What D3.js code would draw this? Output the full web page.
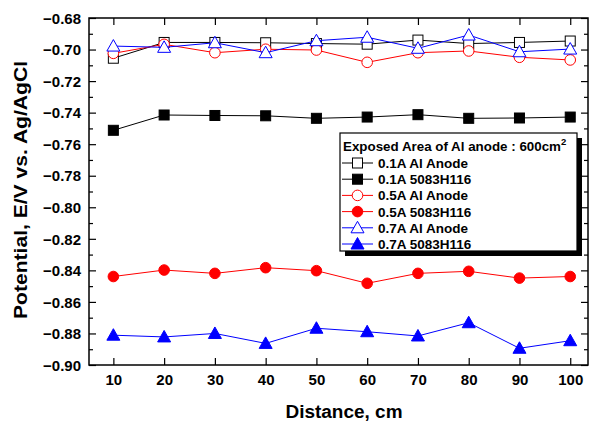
<!DOCTYPE html>
<html><head><meta charset="utf-8">
<script src="https://cdn.jsdelivr.net/npm/d3@7"></script>
<style>body{margin:0;background:#fff}svg{display:block;font-family:"Liberation Sans",Arial,sans-serif;font-weight:bold}</style>
</head><body><svg id="c" width="595" height="424"></svg>
<script>
const distances = [10,20,30,40,50,60,70,80,90,100];
const al01 = [-0.7055,-0.6955,-0.6955,-0.6957,-0.6962,-0.6966,-0.6940,-0.6962,-0.6955,-0.6946];
const h01  = [-0.7512,-0.7415,-0.7418,-0.7420,-0.7436,-0.7428,-0.7413,-0.7436,-0.7434,-0.7428];
const al05 = [-0.7024,-0.6967,-0.7020,-0.6998,-0.7003,-0.7081,-0.7020,-0.7009,-0.7049,-0.7066];
const h05  = [-0.8439,-0.8398,-0.8419,-0.8383,-0.8402,-0.8482,-0.8419,-0.8406,-0.8449,-0.8439];
const al07 = [-0.6978,-0.6986,-0.6957,-0.7020,-0.6944,-0.6922,-0.6992,-0.6908,-0.7014,-0.6997];
const h07  = [-0.8811,-0.8822,-0.8800,-0.8863,-0.8767,-0.8789,-0.8816,-0.8732,-0.8894,-0.8846];
const yTicks = [-0.68,-0.70,-0.72,-0.74,-0.76,-0.78,-0.80,-0.82,-0.84,-0.86,-0.88,-0.90];
const yMinor = [-0.69,-0.71,-0.73,-0.75,-0.77,-0.79,-0.81,-0.83,-0.85,-0.87,-0.89];
const seriesNames = ["0.1A Al Anode","0.1A 5083H116","0.5A Al Anode","0.5A 5083H116","0.7A Al Anode","0.7A 5083H116"];
const seriesColors = ["#000000","#000000","#ff0000","#ff0000","#0000ff","#0000ff"];
const seriesShapes = ["square","square","circle","circle","triangle","triangle"];
const seriesFilled = [false,true,false,true,false,true];
const seriesValues = [al01,h01,al05,h05,al07,h07];

const svg = d3.select("#c");
const L=89,R=588,T=18,B=365;
const x = d3.scaleLinear().domain([5.2,103.5]).range([L,R]);
const y = d3.scaleLinear().domain([-0.90,-0.68]).range([B,T]);

// frame
svg.append("rect").attr("x",L).attr("y",T).attr("width",R-L).attr("height",B-T)
  .attr("fill","none").attr("stroke","#000").attr("stroke-width",1.5);

// axes with inward ticks
const fmt = d3.format(".2f");
const gl = svg.append("g").attr("transform",`translate(${L},0)`)
  .call(d3.axisLeft(y).tickValues(yTicks).tickSize(-7).tickPadding(15).tickFormat(fmt));
gl.selectAll("text").attr("font-size",15).attr("font-weight","bold").attr("font-family","Liberation Sans, Arial").attr("fill","#000").attr("dx","0").attr("x",-8).attr("dy","0.35em");
svg.append("g").attr("transform",`translate(${L},0)`)
  .call(d3.axisLeft(y).tickValues(yMinor).tickSize(-4).tickFormat(""));
svg.append("g").attr("transform",`translate(${R},0)`)
  .call(d3.axisRight(y).tickValues(yTicks).tickSize(-7).tickFormat(""));
svg.append("g").attr("transform",`translate(${R},0)`)
  .call(d3.axisRight(y).tickValues(yMinor).tickSize(-4).tickFormat(""));
const gb = svg.append("g").attr("transform",`translate(0,${B})`)
  .call(d3.axisBottom(x).tickValues(distances).tickSize(-7).tickFormat(d3.format("d")));
gb.selectAll("text").attr("font-size",15).attr("font-weight","bold").attr("font-family","Liberation Sans, Arial").attr("fill","#000").attr("y",9).attr("dy","0.71em");
svg.append("g").attr("transform",`translate(0,${T})`)
  .call(d3.axisTop(x).tickValues(distances).tickSize(-7).tickFormat(""));
svg.selectAll(".domain").remove();
svg.selectAll(".tick line").attr("stroke","#000").attr("stroke-width",1.2);

// axis titles
svg.append("text").attr("x",344).attr("y",418).attr("text-anchor","middle")
  .attr("font-size",18).attr("textLength",117).attr("lengthAdjust","spacingAndGlyphs").text("Distance, cm");
svg.append("text").attr("transform","translate(27,190) rotate(-90)").attr("text-anchor","middle")
  .attr("font-size",18).attr("textLength",258).attr("lengthAdjust","spacingAndGlyphs").text("Potential, E/V vs. Ag/AgCl");

function drawMarker(g, shape, color, filled, cx, cy){
  const fill = filled ? color : "#fff";
  if(shape==="square"){
    g.append("rect").attr("x",cx-5).attr("y",cy-5).attr("width",10).attr("height",10)
      .attr("fill",fill).attr("stroke",color).attr("stroke-width",1);
  } else if(shape==="circle"){
    g.append("circle").attr("cx",cx).attr("cy",cy).attr("r",5.3)
      .attr("fill",fill).attr("stroke",color).attr("stroke-width",1);
  } else {
    g.append("path").attr("d",`M${cx},${cy-6.5}L${cx+6.5},${cy+5}L${cx-6.5},${cy+5}Z`)
      .attr("fill",fill).attr("stroke",color).attr("stroke-width",1);
  }
}

const line = d3.line().x((d,i)=>x(distances[i])).y(d=>y(d));
seriesValues.forEach((vals,si)=>{
  const g = svg.append("g");
  g.append("path").attr("d",line(vals)).attr("fill","none").attr("stroke",seriesColors[si]).attr("stroke-width",1);
  vals.forEach((v,i)=>drawMarker(g,seriesShapes[si],seriesColors[si],seriesFilled[si],x(distances[i]),y(v)));
});

// legend
const lg = svg.append("g");
lg.append("rect").attr("x",345).attr("y",138).attr("width",237).attr("height",118).attr("fill","#000");
lg.append("rect").attr("x",340).attr("y",133).attr("width",237).attr("height",118).attr("fill","#fff").attr("stroke","#000").attr("stroke-width",1.2);
const tt = lg.append("text").attr("x",343).attr("y",151).attr("font-size",13);
tt.append("tspan").attr("textLength",218).attr("lengthAdjust","spacingAndGlyphs").text("Exposed Area of Al anode : 600cm");
tt.append("tspan").attr("font-size",9.5).attr("dy",-6).text("2");
seriesNames.forEach((nm,i)=>{
  const cy = 163 + i*16.2;
  lg.append("line").attr("x1",342).attr("x2",373).attr("y1",cy).attr("y2",cy).attr("stroke",seriesColors[i]).attr("stroke-width",1);
  drawMarker(lg,seriesShapes[i],seriesColors[i],seriesFilled[i],357.5,cy);
  lg.append("text").attr("x",378).attr("y",cy+5).attr("font-size",13.5).text(nm);
});
</script></body></html>
